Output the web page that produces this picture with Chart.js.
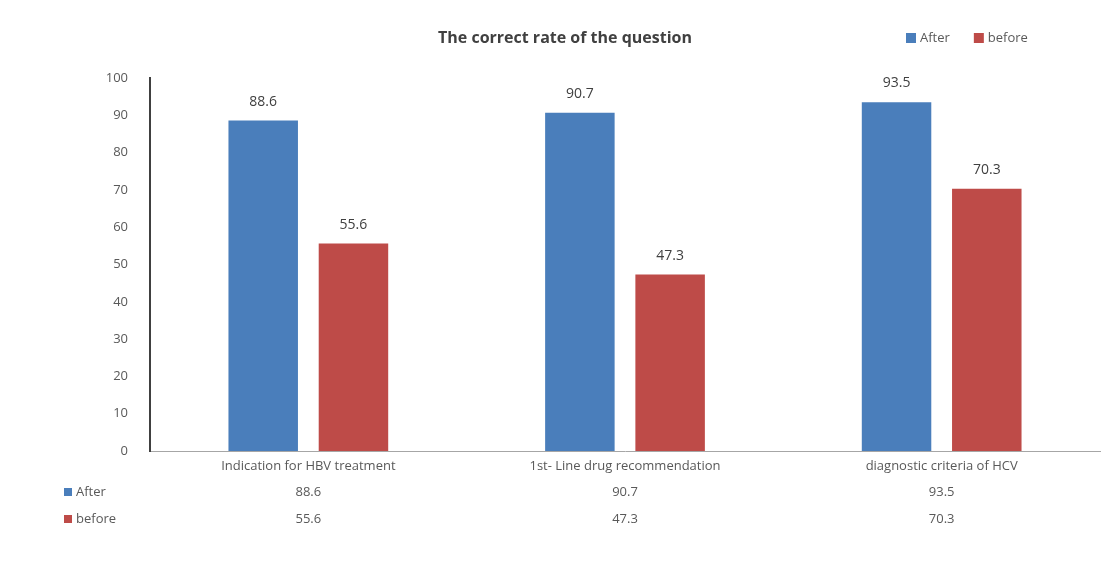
<!DOCTYPE html>
<html>
<head>
<meta charset="utf-8">
<script src="https://cdn.jsdelivr.net/npm/chart.js@4"></script>
<style>
  html, body { margin: 0; padding: 0; background: #fff; }
  #wrap { width: 1110px; height: 568px; }
</style>
</head>
<body>
<div id="wrap"><canvas id="chart" width="1110" height="568"></canvas></div>
<script>
const categories = ["Indication for HBV treatment", "1st- Line drug recommendation", "diagnostic criteria of HCV"];
const afterValues = [88.6, 90.7, 93.5];
const beforeValues = [55.6, 47.3, 70.3];
const seriesNames = ["After", "before"];
const yTicks = [0, 10, 20, 30, 40, 50, 60, 70, 80, 90, 100];

const BLUE = "#4a7ebb";
const RED = "#be4b48";
const TEXT = "#595959";

// title, legend, value labels and the data table under the axis
const extras = {
  id: "extras",
  afterDraw(chart) {
    const ctx = chart.ctx;
    const x = chart.scales.x;
    ctx.save();

    ctx.fillStyle = "#404040";
    ctx.font = "bold 16px 'Open Sans', sans-serif";
    ctx.textAlign = "center";
    ctx.textBaseline = "middle";
    ctx.fillText("The correct rate of the question", 565, 38);

    // top legend
    ctx.font = "13px 'Open Sans', sans-serif";
    ctx.textAlign = "left";
    let lx = 906;
    chart.data.datasets.forEach(ds => {
      ctx.fillStyle = ds.backgroundColor;
      ctx.fillRect(lx, 33, 10, 10);
      ctx.fillStyle = TEXT;
      ctx.fillText(ds.label, lx + 14, 38);
      lx += ctx.measureText(ds.label).width + 38;
    });

    // value labels above bars
    ctx.textAlign = "center";
    ctx.textBaseline = "bottom";
    ctx.font = "14px 'Open Sans', sans-serif";
    ctx.fillStyle = "#404040";
    chart.data.datasets.forEach((ds, i) => {
      chart.getDatasetMeta(i).data.forEach((bar, j) => {
        ctx.fillText(ds.data[j].toFixed(1), bar.x, bar.y - 12);
      });
    });

    // data table
    ctx.font = "13px 'Open Sans', sans-serif";
    ctx.fillStyle = TEXT;
    ctx.textBaseline = "middle";
    categories.forEach((c, j) => {
      ctx.fillText(c, x.getPixelForValue(j), 466);
    });
    const rows = [afterValues, beforeValues];
    rows.forEach((vals, r) => {
      const ry = 492 + r * 27;
      ctx.fillStyle = chart.data.datasets[r].backgroundColor;
      ctx.fillRect(64, ry - 4, 8, 8);
      ctx.fillStyle = TEXT;
      ctx.textAlign = "left";
      ctx.fillText(seriesNames[r], 76, ry);
      ctx.textAlign = "center";
      vals.forEach((v, j) => ctx.fillText(v.toFixed(1), x.getPixelForValue(j), ry));
    });
    ctx.restore();
  }
};

new Chart(document.getElementById("chart").getContext("2d"), {
  type: "bar",
  data: {
    labels: categories,
    datasets: [
      { label: seriesNames[0], data: afterValues, backgroundColor: BLUE },
      { label: seriesNames[1], data: beforeValues, backgroundColor: RED }
    ]
  },
  options: {
    responsive: false,
    animation: false,
    events: [],
    categoryPercentage: 0.57,
    barPercentage: 0.77,
    layout: { padding: { top: 78, bottom: 109, left: 0, right: 10 } },
    plugins: {
      legend: { display: false },
      title: { display: false },
      tooltip: { enabled: false }
    },
    scales: {
      x: {
        grid: { display: false },
        border: { display: true, color: "#a6a6a6", width: 1 },
        ticks: { display: false }
      },
      y: {
        min: 0,
        max: 100,
        afterFit(scale) { scale.width = 150; },
        afterBuildTicks(scale) { scale.ticks = yTicks.map(v => ({ value: v })); },
        grid: { display: false },
        border: { display: true, color: "#404040", width: 2 },
        ticks: {
          color: TEXT,
          padding: 14,
          font: { size: 13, family: "'Open Sans', sans-serif" }
        }
      }
    }
  },
  plugins: [extras]
});
</script>
</body>
</html>
